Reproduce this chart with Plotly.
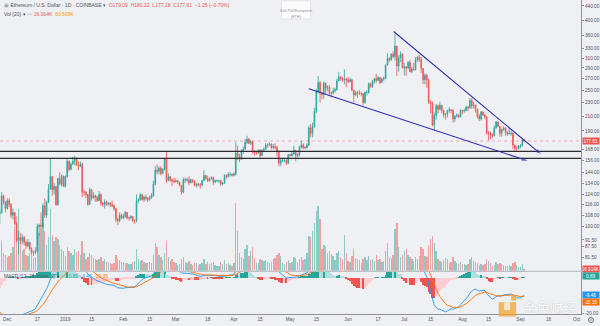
import math
import pandas as pd
import plotly.graph_objects as go

# ---------------- data (ETH/USD daily, Coinbase) ----------------
# closes before the first visible candle (Oct 1 - Nov 25 2018), used only to warm up the MACD
warmup_closes = [231, 226, 219, 222, 227, 224, 226, 229, 227, 225, 190, 195, 197, 196, 220, 213,
                 208, 203, 202, 205, 205, 204, 202, 204, 202, 203, 204, 203, 193, 195, 198,
                 200, 203, 206, 218, 210, 219, 216, 211, 210, 212, 212, 210, 206, 182, 180, 174,
                 172, 176, 149, 131, 137, 126, 123, 113, 116]

start_date = "2018-11-26"
first_open = 116.0

closes = [
    109, 110, 123, 118, 113,
    119, 116, 108, 110, 102, 91, 93, 91, 93, 90, 88, 90, 86, 84, 84, 85, 100, 101, 100, 115, 108, 118, 129, 140, 128, 131, 116, 138, 133, 140, 131,
    140, 155, 147, 152, 155, 158, 151, 150, 152, 126, 126, 124, 116, 128, 121, 123, 122, 119, 124, 117, 116, 118, 116, 117, 116, 115, 113, 105, 104, 108, 106,
    107, 110, 106, 106, 107, 104, 104, 119, 120, 124, 120, 122, 121, 120, 121, 123, 133, 146, 145, 148, 143, 147, 158, 136, 140, 137, 136, 135,
    136, 135, 132, 126, 137, 137, 137, 134, 137, 136, 132, 133, 132, 132, 136, 141, 138, 136, 138, 139, 135, 136, 136, 136, 133, 134, 141, 140, 142, 142, 141,
    142, 164, 160, 157, 166, 168, 176, 180, 175, 177, 165, 164, 164, 167, 161, 167, 168, 173, 173, 174, 170, 171, 170, 165, 153, 156, 156, 156, 153, 162,
    161, 163, 167, 161, 162, 170, 173, 170, 170, 173, 194, 187, 196, 217, 248, 263, 245, 243, 262, 253, 255, 245, 245, 249, 251, 266, 273, 271, 268, 269, 268,
    265, 268, 250, 242, 246, 245, 244, 244, 230, 246, 246, 261, 256, 265, 270, 267, 272, 263, 269, 270, 296, 309, 306, 318, 313, 336, 294, 311, 318, 290,
    292, 290, 301, 283, 288, 287, 307, 312, 307, 289, 268, 276, 268, 231, 229, 198, 211, 225, 220, 226, 218, 212, 213, 218, 219, 218, 206, 210, 211, 209, 218,
    217, 218, 223, 222, 233, 225, 226, 220, 210, 206, 216, 212, 209, 187, 187, 185, 184, 194, 202, 196, 187, 192, 194, 189, 186, 187, 187, 173, 169, 169, 172,
    172, 179.09, 177.61,
]
highs = [
    118, 112, 126, 124, 119,
    121, 121, 117, 113, 110, 103, 97, 96, 95, 94, 91, 92, 90, 87, 85, 87, 102, 102, 110, 117, 121, 119, 133, 158, 140, 134, 131, 139, 144, 142, 141,
    141, 158, 156, 154, 160, 161, 159, 155, 155, 154, 128, 127, 124, 130, 129, 126, 124, 123, 127, 125, 118, 120, 119, 118, 118, 119, 116, 113, 106, 110, 109,
    109, 111, 110, 107, 108, 107, 105, 124, 121, 125, 124, 123, 124, 122, 123, 125, 136, 150, 152, 150, 150, 148, 159, 165, 143, 140, 138, 139,
    138, 137, 135, 132, 139, 139, 139, 140, 138, 137, 136, 134, 134, 134, 137, 146, 141, 141, 139, 140, 140, 137, 137, 137, 137, 135, 142, 142, 144, 144, 143,
    144, 176, 172, 163, 168, 171, 180, 184, 181, 179, 177, 167, 165, 168, 168, 168, 170, 175, 175, 176, 175, 174, 175, 172, 167, 158, 158, 158, 157, 163,
    163, 165, 172, 167, 164, 172, 178, 175, 172, 175, 197, 199, 201, 222, 252, 275, 266, 247, 265, 263, 258, 259, 247, 254, 254, 270, 282, 275, 273, 287, 272,
    272, 272, 269, 250, 249, 249, 250, 247, 245, 248, 250, 263, 263, 268, 271, 279, 275, 272, 272, 274, 297, 321, 312, 320, 324, 364, 336, 316, 324, 320,
    300, 294, 304, 306, 292, 300, 312, 314, 317, 312, 290, 280, 279, 270, 234, 232, 215, 228, 227, 231, 226, 219, 214, 219, 223, 220, 220, 211, 214, 213, 220,
    219, 221, 225, 225, 237, 237, 231, 227, 221, 213, 217, 217, 213, 209, 190, 189, 187, 197, 203, 202, 196, 193, 196, 195, 190, 194, 190, 188, 173, 172, 173,
    174, 181, 180.22,
]
lows = [
    103, 102, 109, 116, 110,
    112, 114, 106, 105, 101, 90, 83, 89, 89, 88, 86, 87, 85, 83, 82, 83, 84, 94, 98, 99, 106, 106, 117, 128, 123, 124, 115, 115, 132, 131, 131,
    130, 139, 145, 146, 152, 151, 150, 146, 149, 122, 123, 121, 115, 116, 119, 121, 118, 118, 119, 115, 114, 113, 115, 115, 114, 114, 111, 103, 101, 103, 105,
    105, 106, 105, 104, 105, 103, 102, 103, 117, 119, 119, 118, 119, 118, 119, 121, 122, 132, 142, 142, 141, 142, 146, 134, 136, 135, 131, 134,
    135, 133, 131, 124, 125, 134, 135, 132, 134, 134, 131, 130, 131, 129, 132, 136, 137, 135, 135, 137, 132, 134, 135, 134, 131, 132, 133, 138, 139, 140, 140,
    140, 141, 156, 154, 157, 163, 168, 174, 174, 173, 163, 161, 162, 163, 159, 161, 166, 168, 170, 172, 168, 168, 168, 160, 150, 150, 154, 154, 151, 152,
    160, 160, 162, 155, 159, 160, 169, 168, 168, 169, 172, 182, 182, 194, 214, 245, 230, 235, 236, 244, 248, 240, 238, 243, 246, 249, 266, 266, 264, 260, 255,
    262, 263, 248, 230, 240, 237, 242, 240, 226, 228, 241, 244, 254, 254, 261, 262, 265, 260, 263, 266, 269, 295, 302, 305, 310, 305, 275, 283, 302, 289,
    276, 275, 288, 282, 280, 285, 285, 302, 302, 281, 260, 260, 254, 228, 214, 196, 190, 205, 214, 218, 214, 208, 205, 208, 215, 214, 201, 202, 208, 207, 208,
    212, 215, 217, 217, 221, 221, 221, 215, 207, 203, 204, 210, 206, 185, 178, 180, 181, 183, 193, 195, 183, 183, 190, 184, 184, 186, 184, 168, 166, 166, 168,
    169, 171, 177.18,
]
volumes_k = [
    280, 220, 300, 180, 160,
    140, 150, 180, 240, 450, 550, 620, 300, 200, 220, 160, 150, 180, 200, 130, 140, 450, 380, 420, 480, 400, 260, 340, 620, 360, 300, 340, 320, 260, 220, 200,
    150, 240, 200, 180, 160, 220, 190, 200, 160, 300, 180, 120, 140, 180, 160, 130, 120, 110, 120, 140, 100, 120, 90, 90, 80, 70, 80, 160, 120, 110, 90,
    90, 80, 80, 70, 70, 90, 100, 220, 120, 100, 110, 90, 80, 80, 90, 80, 160, 280, 240, 160, 140, 110, 180, 300, 140, 100, 120, 90,
    80, 60, 70, 120, 140, 90, 80, 100, 70, 60, 80, 80, 60, 70, 80, 120, 70, 90, 70, 80, 90, 60, 50, 50, 90, 70, 110, 70, 80, 60, 50,
    80, 680, 400, 180, 140, 120, 220, 260, 150, 200, 240, 130, 80, 80, 120, 110, 100, 110, 90, 80, 90, 120, 130, 160, 180, 150, 80, 70, 90, 110,
    80, 90, 140, 130, 90, 120, 140, 110, 120, 180, 350, 340, 400, 480, 600, 650, 520, 220, 260, 240, 180, 200, 170, 150, 110, 180, 200, 140, 120, 360, 180,
    100, 90, 150, 220, 130, 120, 110, 80, 120, 140, 110, 150, 110, 120, 100, 160, 110, 120, 90, 100, 200, 280, 140, 130, 160, 420, 480, 240, 140, 160,
    200, 220, 160, 140, 120, 100, 140, 120, 150, 240, 220, 150, 140, 260, 320, 350, 280, 200, 120, 100, 90, 110, 130, 120, 80, 90, 140, 100, 80, 70, 90,
    70, 70, 60, 70, 120, 140, 100, 90, 80, 60, 70, 60, 70, 120, 100, 80, 50, 60, 90, 70, 80, 70, 60, 50, 50, 60, 50, 80, 90, 60, 40,
    40, 70, 16.914,
]

tick_dates = ["2018-12-01", "2018-12-17", "2019-01-01", "2019-01-15", "2019-02-01", "2019-02-15",
              "2019-03-01", "2019-03-18", "2019-04-01", "2019-04-15", "2019-05-01", "2019-05-15",
              "2019-06-01", "2019-06-17", "2019-07-01", "2019-07-15", "2019-08-01", "2019-08-15",
              "2019-09-01", "2019-09-16", "2019-10-01"]
tick_labels = ["Dec", "17", "2019", "15", "Feb", "15", "Mar", "18", "Apr", "15", "May", "15",
               "Jun", "17", "Jul", "15", "Aug", "15", "Sep", "16", "Oct"]
price_ticks = [81.5, 87.5, 91.5, 100, 108, 116, 124, 134, 144, 156, 168, 190, 210, 230, 250,
               270, 290, 310, 330, 360, 400, 440]
macd_ticks = [-20]

support_levels = [165.7, 158.1]
upper_trend_dates = ["2019-06-25 07:00", "2019-09-11 21:30"]
upper_trend_prices = [370.5, 162.7]
lower_trend_dates = ["2019-05-11 00:00", "2019-09-04 17:00"]
lower_trend_prices = [252.3, 155.6]

last_price = 177.61
last_volume_k = 16.914
macd_last_labels = ["0.89", "-9.46", "-10.35"]
macd_last_values = [0.89, -9.46, -10.35]

# ---------------- derived ----------------
dates = pd.date_range(start_date, periods=len(closes), freq="D")
opens = [first_open] + closes[:-1]          # 24/7 market: each day opens at the previous close

allc = pd.Series(warmup_closes + closes, dtype=float)
ema12 = allc.ewm(span=12, adjust=False).mean()
ema26 = allc.ewm(span=26, adjust=False).mean()
macd_all = ema12 - ema26
signal_all = macd_all.ewm(span=9, adjust=False).mean()
hist_all = macd_all - signal_all
n0 = len(warmup_closes)
macd = list(macd_all[n0:])
signal = list(signal_all[n0:])
hist = list(hist_all[n0:])
hist_prev = list(hist_all[n0 - 1:-1])

UP = "#26a69a"
DN = "#ef5350"
BG = "#eef0f3"
AXIS = "#8f929a"
TXT = "#50535e"
FONT = "Liberation Sans, Arial, sans-serif"

hist_colors = []
for h, p in zip(hist, hist_prev):
    if h >= 0:
        hist_colors.append("#26a69a" if h > p else "#b2dfdb")
    else:
        hist_colors.append("#ffcdd2" if h > p else "#ef5350")

vol_colors = ["rgba(38,166,154,0.5)" if c >= o else "rgba(239,83,80,0.5)" for o, c in zip(opens, closes)]

x_range = ["2018-11-27 02:40", "2019-10-03 08:25"]
DAY_MS = 86400000

W, H = 600, 326
def px(x):
    return x / W
def py(y):
    return 1 - y / H

fig = go.Figure()

# volume (base axis y, hidden) so it sits underneath the candles
fig.add_trace(go.Bar(x=dates, y=volumes_k, marker=dict(color=vol_colors, line=dict(width=0)),
                     width=0.75 * DAY_MS, xaxis="x", yaxis="y", hoverinfo="skip"))

# candles on the log price axis
fig.add_trace(go.Candlestick(
    x=dates, open=opens, high=highs, low=lows, close=closes, xaxis="x", yaxis="y2",
    increasing=dict(line=dict(color=UP, width=0.8), fillcolor=UP),
    decreasing=dict(line=dict(color=DN, width=0.8), fillcolor=DN),
    whiskerwidth=0, hoverinfo="skip"))

# last price line
fig.add_trace(go.Scatter(x=x_range, y=[last_price, last_price], mode="lines", xaxis="x", yaxis="y2",
                         line=dict(color="rgba(239,83,80,0.55)", width=0.8, dash="dot"), hoverinfo="skip"))

# horizontal support lines
for lvl in support_levels:
    fig.add_trace(go.Scatter(x=x_range, y=[lvl, lvl], mode="lines", xaxis="x", yaxis="y2",
                             line=dict(color="#2b2b30", width=1.2), hoverinfo="skip"))

# trend lines with arrow ends
for tx, ty in [(upper_trend_dates, upper_trend_prices), (lower_trend_dates, lower_trend_prices)]:
    fig.add_trace(go.Scatter(x=tx, y=ty, mode="lines+markers", xaxis="x", yaxis="y2",
                             line=dict(color="#2c2cae", width=1.1),
                             marker=dict(symbol=["circle", "arrow"], size=[0, 6], color="#2c2cae",
                                         angleref="previous", line=dict(width=0)),
                             hoverinfo="skip"))

# MACD
fig.add_trace(go.Bar(x=dates, y=hist, marker=dict(color=hist_colors, line=dict(width=0)),
                     width=0.6 * DAY_MS, xaxis="x", yaxis="y3", hoverinfo="skip"))
fig.add_trace(go.Scatter(x=dates, y=macd, mode="lines", line=dict(color="#2196f3", width=0.9),
                         xaxis="x", yaxis="y3", hoverinfo="skip"))
fig.add_trace(go.Scatter(x=dates, y=signal, mode="lines", line=dict(color="#ff6d00", width=0.9),
                         xaxis="x", yaxis="y3", hoverinfo="skip"))

main_bottom = 272.5
macd_top, macd_bottom = 273.5, 316.0
price_top = 457.7
price_bottom = 74.32

tickfont = dict(family=FONT, size=4.7, color=TXT)

fig.update_layout(
    width=W, height=H, autosize=False,
    margin=dict(l=0, r=0, t=0, b=0),
    paper_bgcolor=BG, plot_bgcolor=BG,
    showlegend=False, bargap=0, boxgap=0.45,
    font=dict(family=FONT, color=TXT),
    xaxis=dict(domain=[0, px(582)], range=x_range, type="date", anchor="y3",
               tickvals=tick_dates, ticktext=tick_labels, tickfont=tickfont,
               showline=True, linecolor=AXIS, linewidth=1, ticks="", showgrid=False,
               zeroline=False, rangeslider=dict(visible=False), fixedrange=True),
    yaxis=dict(domain=[py(main_bottom), 1], range=[0, main_bottom * 10], visible=False,
               fixedrange=True, anchor="x"),
    yaxis2=dict(type="log", overlaying="y", side="right", anchor="x",
                range=[math.log10(price_bottom), math.log10(price_top)],
                tickvals=price_ticks, ticktext=[f"{v:.2f}" for v in price_ticks],
                tickfont=tickfont, showline=True, linecolor=AXIS, linewidth=1,
                ticks="outside", ticklen=2, tickcolor=AXIS, showgrid=False, zeroline=False,
                fixedrange=True),
    yaxis3=dict(domain=[py(macd_bottom), py(macd_top)], range=[-20.5, 3.37], side="right",
                anchor="x", tickvals=macd_ticks, ticktext=[f"{v:.2f}" for v in macd_ticks],
                tickfont=tickfont, showline=True, linecolor=AXIS, linewidth=1,
                ticks="outside", ticklen=2, tickcolor=AXIS, showgrid=False, zeroline=False,
                fixedrange=True),
)

shapes = [
    # pane separator
    dict(type="line", xref="paper", yref="paper", x0=0, x1=1, y0=py(273), y1=py(273),
         line=dict(color="#b4b7bd", width=1)),
    # "Kick Poll" box
    dict(type="rect", xref="paper", yref="paper", x0=px(282), x1=px(311), y0=py(19), y1=py(1),
         fillcolor="rgba(255,255,255,0.75)", line=dict(color="#d6d8dc", width=0.5)),
    # watermark logo
    dict(type="rect", xref="paper", yref="paper", x0=px(512), x1=px(517), y0=py(302.5), y1=py(297.5),
         fillcolor="rgba(242,166,52,0.75)", line=dict(width=0)),
    dict(type="rect", xref="paper", yref="paper", x0=px(499.5), x1=px(517), y0=py(318.5), y1=py(304),
         fillcolor="rgba(242,166,52,0.75)", line=dict(width=0)),
    dict(type="rect", xref="paper", yref="paper", x0=px(505), x1=px(511), y0=py(312), y1=py(304),
         fillcolor="rgba(250,236,214,0.9)", line=dict(width=0)),
    # settings icon (bottom-right corner)
    dict(type="circle", xref="paper", yref="paper", x0=px(589.5), x1=px(594.5), y0=py(324.5), y1=py(319.5),
         fillcolor="rgba(0,0,0,0)", line=dict(color="#6a6d75", width=1)),
    dict(type="circle", xref="paper", yref="paper", x0=px(591.3), x1=px(592.7), y0=py(322.7), y1=py(321.3),
         fillcolor="#6a6d75", line=dict(width=0)),
]
fig.update_layout(shapes=shapes)

ann = []
# header lines
ann.append(dict(xref="paper", yref="paper", x=px(2), y=py(5.5), xanchor="left", yanchor="middle",
                showarrow=False, font=dict(family=FONT, size=5, color=TXT),
                text=("<span style='color:#9a9da5'>▣</span> Ethereum / U.S. Dollar · 1D · COINBASE ▾  "
                      "<span style='color:#ef5350'>O179.09  H180.22  L177.18  C177.61  −1.25 (−0.70%)</span>")))
ann.append(dict(xref="paper", yref="paper", x=px(2), y=py(14), xanchor="left", yanchor="middle",
                showarrow=False, font=dict(family=FONT, size=5, color=TXT),
                text=("Vol (20) ▾ <span style='color:#a0a3aa'>▫▫▫</span> "
                      "<span style='color:#ef5350'>16.914K</span>  <span style='color:#ff9800'>63.509K</span>")))
ann.append(dict(xref="paper", yref="paper", x=px(2), y=py(278), xanchor="left", yanchor="middle",
                showarrow=False, font=dict(family=FONT, size=4.8, color=TXT),
                text=("MACD (12, 26, close, 9) ▾ <span style='color:#a0a3aa'>▫▫▫</span>  "
                      f"<span style='color:#26a69a'>{macd_last_labels[0]}</span>  "
                      f"<span style='color:#2196f3'>{macd_last_labels[1]}</span>  "
                      f"<span style='color:#ff6d00'>{macd_last_labels[2]}</span>")))
# kick poll text
ann.append(dict(xref="paper", yref="paper", x=px(296.5), y=py(7), showarrow=False,
                font=dict(family=FONT, size=3.6, color="#8a8d94"), text="Kick Poll Ecosystem"))
ann.append(dict(xref="paper", yref="paper", x=px(296.5), y=py(13), showarrow=False,
                font=dict(family=FONT, size=3.6, color="#8a8d94"), text="(ETH)"))

# axis value tags
tag = dict(xref="paper", x=px(582.5), xanchor="left", yanchor="middle", showarrow=False,
           width=15.5, height=6, borderpad=0, font=dict(family=FONT, size=4.6, color="white"))
ann.append(dict(tag, yref="y2", y=math.log10(last_price), text=f"{last_price:.2f}", bgcolor=DN))
ann.append(dict(tag, yref="y", y=last_volume_k, text=f"{last_volume_k:.3f}K", bgcolor=DN))
ann.append(dict(tag, yref="y3", y=macd_last_values[0], text=macd_last_labels[0], bgcolor=UP))
ann.append(dict(tag, yref="y3", y=macd_last_values[1], text=macd_last_labels[1], bgcolor="#2196f3"))
ann.append(dict(tag, yref="y3", y=macd_last_values[2], yshift=-5.5, text=macd_last_labels[2],
                bgcolor="#ff6d00"))

# watermark text
ann.append(dict(xref="paper", yref="paper", x=px(551), y=py(308.5), showarrow=False,
                xanchor="center", yanchor="middle", text="金色财经", height=15,
                font=dict(family="Noto Sans CJK SC", size=13.5, color="rgba(255,255,255,0.92)",
                          shadow="0px 0px 1.5px rgba(0,0,0,0.25)")))

fig.update_layout(annotations=ann)

fig.write_html("out.html")
